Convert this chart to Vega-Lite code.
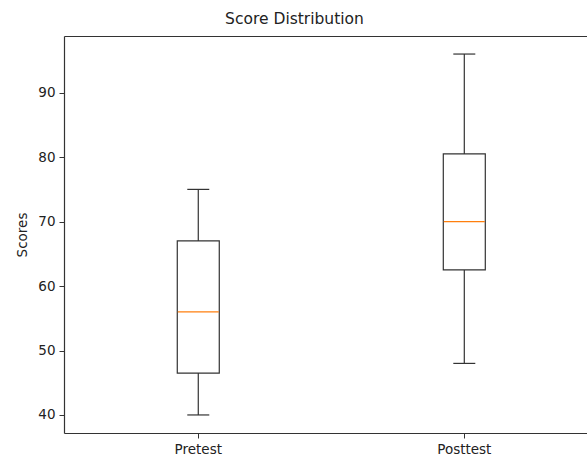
{
  "$schema": "https://vega.github.io/schema/vega-lite/v6.json",
  "width": 523,
  "height": 397,
  "autosize": {"type": "none"},
  "padding": {"left": 64, "top": 36, "right": 0, "bottom": 26},
  "background": "white",
  "title": {"text": "Score Distribution", "fontSize": 15.5, "font": "DejaVu Sans", "fontWeight": "normal", "color": "#222", "offset": 9, "dx": -31},
  "config": {
    "view": {"stroke": null},
    "font": "DejaVu Sans",
    "axis": {"labelFont": "DejaVu Sans", "titleFont": "DejaVu Sans", "labelFontSize": 13.5, "titleFontSize": 13.5, "titleFontWeight": "normal", "labelColor": "#222", "titleColor": "#222", "domainColor": "#333", "tickColor": "#333", "grid": false, "tickSize": 5, "labelPadding": 4, "domainWidth": 1.2, "zindex": 1}
  },
  "data": {"values": [
    {"group": "Pretest", "min": 40, "q1": 46.5, "median": 56, "q3": 67, "max": 75},
    {"group": "Posttest", "min": 48, "q1": 62.5, "median": 70, "q3": 80.5, "max": 96}
  ]},
  "encoding": {
    "x": {"field": "group", "type": "nominal", "sort": ["Pretest", "Posttest"],
          "scale": {"type": "band", "domain": ["Pretest", "Posttest"], "paddingInner": 0.84, "paddingOuter": 0.403, "align": 0.527}}
  },
  "resolve": {"axis": {"x": "independent"}},
  "layer": [
    {
      "mark": {"type": "rule", "color": "#333", "strokeWidth": 1.2},
      "encoding": {
        "x": {"field": "group", "type": "nominal", "axis": {"orient": "bottom", "title": null, "labelAngle": 0}},
        "y": {"field": "min", "type": "quantitative", "scale": {"domain": [37.2, 98.8], "nice": false, "zero": false},
              "axis": {"title": "Scores", "values": [40, 50, 60, 70, 80, 90], "titlePadding": 8}},
        "y2": {"field": "q1"}
      }
    },
    {
      "mark": {"type": "rule", "color": "#333", "strokeWidth": 1.2},
      "encoding": {
        "x": {"field": "group", "type": "nominal", "axis": {"orient": "top", "title": null, "labels": false, "ticks": false}},
        "y": {"field": "q3", "type": "quantitative"},
        "y2": {"field": "max"}
      }
    },
    {
      "mark": {"type": "bar", "size": 42, "fill": "white", "stroke": "#333", "strokeWidth": 1.2},
      "encoding": {
        "x": {"field": "group", "type": "nominal", "axis": null},
        "y": {"field": "q1", "type": "quantitative"},
        "y2": {"field": "q3"}
      }
    },
    {
      "mark": {"type": "tick", "size": 41, "thickness": 1.3, "color": "#ff7f0e", "opacity": 1},
      "encoding": {
        "x": {"field": "group", "type": "nominal", "axis": null},
        "y": {"field": "median", "type": "quantitative"}
      }
    },
    {
      "mark": {"type": "tick", "size": 22, "thickness": 1.2, "color": "#333", "opacity": 1},
      "encoding": {
        "x": {"field": "group", "type": "nominal", "axis": null},
        "y": {"field": "min", "type": "quantitative"}
      }
    },
    {
      "mark": {"type": "tick", "size": 22, "thickness": 1.2, "color": "#333", "opacity": 1},
      "encoding": {
        "x": {"field": "group", "type": "nominal", "axis": null},
        "y": {"field": "max", "type": "quantitative"}
      }
    }
  ]
}
